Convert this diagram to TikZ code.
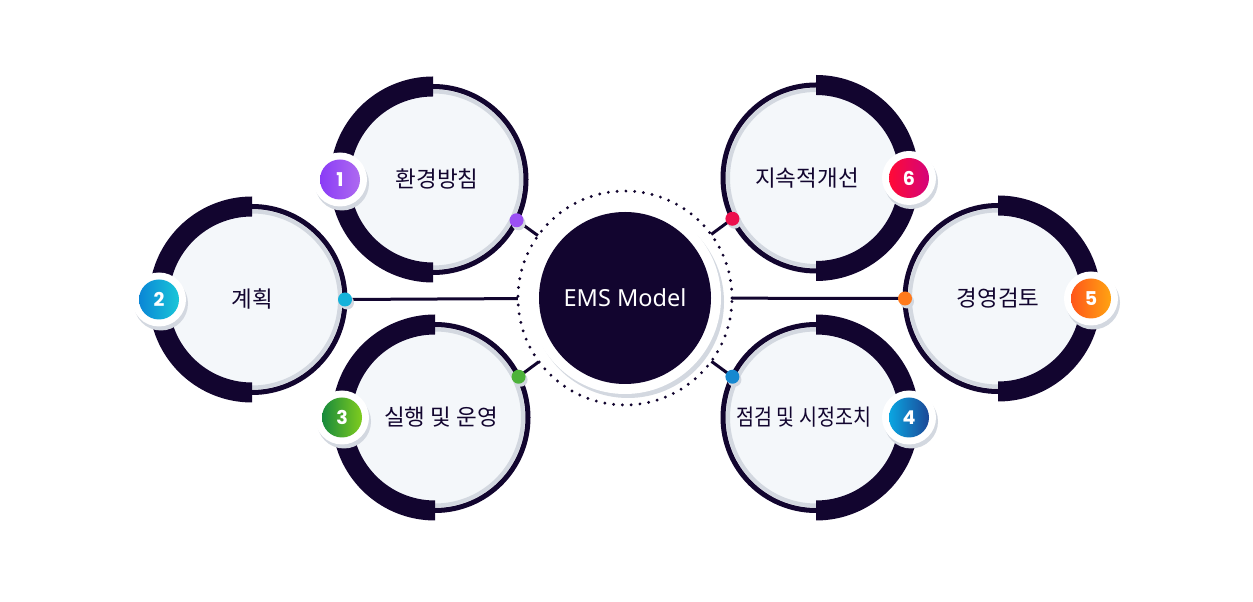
\documentclass[tikz,border=0pt]{standalone}
\usepackage{fontspec}
\newfontfamily\kr{Noto Sans CJK KR}
\newfontfamily\lat{Noto Sans}
\newfontfamily\numf{Poppins}
\usetikzlibrary{backgrounds}
\definecolor{navy}{HTML}{12052F}
\definecolor{pale}{HTML}{F4F7FA}
\definecolor{shad}{HTML}{D3D8E0}
\definecolor{bL1}{HTML}{8A3CF6}\definecolor{bR1}{HTML}{AE6AF0}
\definecolor{bL2}{HTML}{0A86D6}\definecolor{bR2}{HTML}{1AC6D8}
\definecolor{bL3}{HTML}{178A3C}\definecolor{bR3}{HTML}{80CC1E}
\definecolor{bL4}{HTML}{0AA6E2}\definecolor{bR4}{HTML}{1C4796}
\definecolor{bL5}{HTML}{FF561A}\definecolor{bR5}{HTML}{FFA412}
\definecolor{bL6}{HTML}{FF0A36}\definecolor{bR6}{HTML}{D4047A}
\definecolor{dc1}{HTML}{9B50F4}
\definecolor{dc2}{HTML}{14B2DA}
\definecolor{dc3}{HTML}{4DB23A}
\definecolor{dc4}{HTML}{1688D0}
\definecolor{dc5}{HTML}{FF7A1C}
\definecolor{dc6}{HTML}{EC0F4C}
\tikzset{
  conn/.style={draw=navy, line width=3},
  labeltext/.style={text=navy, font=\kr\fontsize{22.5}{26}\selectfont, inner sep=0},
  numtext/.style={text=white, font=\numf\bfseries\fontsize{19}{22}\selectfont, inner sep=0},
  dotnode/.style={circle, minimum size=14, inner sep=0},
  badgewhite/.style={circle, fill=white, minimum size=54, inner sep=0},
}
\begin{document}
\begin{tikzpicture}[x=1pt,y=1pt]
\useasboundingbox (0,0) rectangle (1253,602);
\begin{scope}[on background layer]
\fill[white] (0,0) rectangle (1253,602);
\end{scope}
% center
\fill[shad] (628,300) circle (96);
\fill[white] (625,304) circle (96);
\node[circle, fill=navy, minimum size=172, inner sep=0, text=white, font=\lat\fontsize{23.5}{28}\selectfont] (ems) at (625,304) {EMS Model};
\node[circle, minimum size=214, inner sep=0] (ring) at (625,304) {};
\draw[navy, line width=3.2, dash pattern=on 0pt off 8.8pt, line cap=round] (625,304) circle (107);
% modules
\foreach \n/\x/\y/\s/\dang/\tdx/\txt in {
  1/433/422.5/1/-26/4/환경방침,
  2/252/302.5/1/0/0/계획,
  3/435/184.5/1/26/6/실행 및 운영,
  4/816/184.5/-1/26/-12/\scalebox{0.87}[1]{점검 및 시정조치},
  5/998/303.5/-1/0/0/경영검토,
  6/816/424/-1/-26/-9/지속적개선}
{
  \begin{scope}[shift={(\x,\y)}, xscale=\s]
    \fill[pale] (0,0) circle (92);
    \draw[shad, line width=4] (-90:88) arc[start angle=-90, end angle=90, radius=88];
    \draw[navy, line width=5] (0,0) circle (93);
    \fill[navy] (90:103) arc[start angle=90, end angle=270, radius=103]
       -- (270:83) arc[start angle=270, end angle=90, radius=83] -- cycle;
    \node[circle, minimum size=186, inner sep=0] (c\n) at (0,0) {};
    \coordinate (dp\n) at (\dang:93);
    \coordinate (bp\n) at (180:93);
  \end{scope}
  % badge
  \fill[shad] ([shift={(2,-4)}]bp\n) circle (27);
  \node[badgewhite] (b\n) at (bp\n) {};
  \shade[left color=bL\n, right color=bR\n] (bp\n) circle (20);
  \node[numtext] (n\n) at (bp\n) {\n};
  % dot
  \fill[shad] ([shift={(2,-3)}]dp\n) circle (7);
  \node[dotnode, fill=dc\n] (d\n) at (dp\n) {};
  \begin{scope}[on background layer]
    \draw[conn] (d\n.center) -- (ring);
  \end{scope}
  % label
  \node[labeltext] (t\n) at ({\x+\tdx},\y) {\txt};
}
\end{tikzpicture}
\end{document}
